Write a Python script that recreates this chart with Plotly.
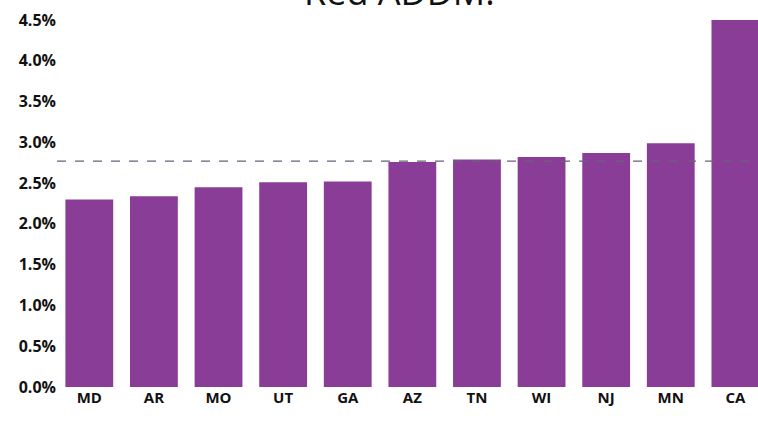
import plotly.graph_objects as go

states = ["MD", "AR", "MO", "UT", "GA", "AZ", "TN", "WI", "NJ", "MN", "CA"]
prevalence = [2.30, 2.34, 2.45, 2.51, 2.52, 2.76, 2.79, 2.82, 2.87, 2.99, 4.50]
overall = 2.77
y_ticks = [0.0, 0.5, 1.0, 1.5, 2.0, 2.5, 3.0, 3.5, 4.0, 4.5]

bar_color = "#8A3D96"
font_family = "Open Sans, Noto Sans, sans-serif"

fig = go.Figure()
fig.add_trace(go.Bar(
    x=list(range(len(states))),
    y=prevalence,
    marker=dict(color=bar_color, line=dict(width=0)),
    showlegend=False,
    hoverinfo="skip",
))

fig.add_shape(type="line", xref="paper", yref="y",
              x0=0, x1=1, y0=overall, y1=overall,
              line=dict(color="#6E5E7E", width=1.2, dash="dash"))

fig.add_annotation(text="Red ADDM.", xref="paper", yref="paper",
                   x=0.488, y=1.0, yshift=2, xanchor="center", yanchor="bottom",
                   showarrow=False,
                   font=dict(family=font_family, size=36, color="#111111"))

fig.update_layout(
    width=758, height=430,
    margin=dict(l=57, r=0, t=20, b=43),
    paper_bgcolor="white", plot_bgcolor="white",
    bargap=0.26,
    hovermode=False,
    font=dict(family=font_family, color="#111111"),
    xaxis=dict(
        tickmode="array",
        tickvals=list(range(len(states))),
        ticktext=["<b>%s</b>" % s for s in states],
        range=[-0.5, 10.35],
        showgrid=False, zeroline=False, showline=False,
        ticks="", tickfont=dict(size=15, family=font_family, color="#111111"),
    ),
    yaxis=dict(
        range=[0, 4.5],
        tickmode="array",
        tickvals=y_ticks,
        ticktext=["<b>%.1f%%</b>" % v for v in y_ticks],
        showgrid=False, zeroline=False, showline=False,
        ticks="", tickfont=dict(size=16, family=font_family, color="#111111"),
        ticklabelstandoff=0,
    ),
)

fig.write_html("out.html", config={"displayModeBar": False},
               post_script="document.body.style.margin='0';document.body.style.overflow='hidden';")
